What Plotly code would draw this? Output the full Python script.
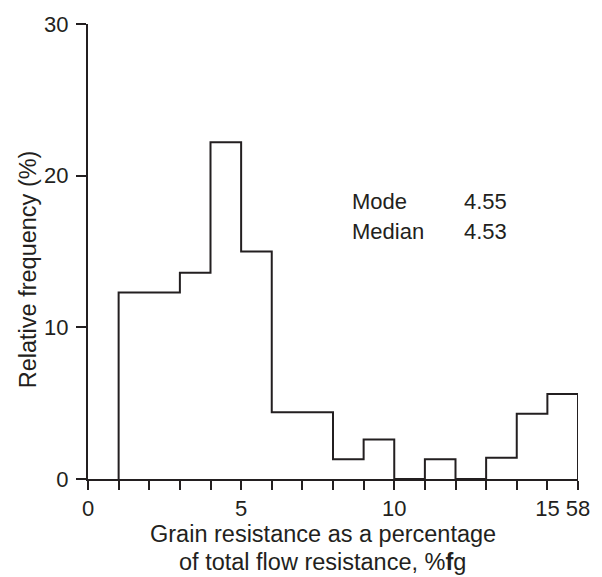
import plotly.graph_objects as go

# Histogram of grain resistance (% of total flow resistance), 1-unit bins
bin_left = [1, 2, 3, 4, 5, 6, 7, 8, 9, 10, 11, 12, 13, 14, 15]
freq = [12.3, 12.3, 13.6, 22.2, 15.0, 4.4, 4.4, 1.3, 2.6, 0.0, 1.3, 0.0, 1.4, 4.3, 5.6]
bin_width = 1

x_tick_vals = list(range(0, 17))
x_tick_text = ["0", "", "", "", "", "5", "", "", "", "", "10", "", "", "", "", "15", "58"]
y_tick_vals = [0, 10, 20, 30]

stats_names = ["Mode", "Median"]
stats_values = ["4.55", "4.53"]

x_title_lines = ["Grain resistance as a percentage", "of total flow resistance, %<b>f</b>g"]
y_title = "Relative frequency (%)"

ink = "#231f20"
font = "Liberation Sans, Arial, sans-serif"

# Step outline: rise at the first edge, step across each bin, drop at the last edge
xs = [bin_left[0]] + bin_left + [bin_left[-1] + bin_width]
ys = [0] + freq + [0]

fig = go.Figure()
fig.add_trace(go.Scatter(
    x=xs, y=ys, mode="lines", line=dict(shape="hv", color=ink, width=2),
    hoverinfo="skip", showlegend=False,
))

fig.update_layout(
    width=602, height=577,
    margin=dict(l=88, r=24, t=17, b=98),
    paper_bgcolor="white", plot_bgcolor="white",
    font=dict(family=font, size=22, color=ink),
    xaxis=dict(
        range=[0, 16], tickmode="array", tickvals=x_tick_vals, ticktext=x_tick_text,
        ticks="outside", ticklen=9, tickwidth=2, tickcolor=ink,
        showline=True, linecolor=ink, linewidth=2, showgrid=False, zeroline=False,
        tickfont=dict(size=22),
    ),
    yaxis=dict(
        range=[0, 30], tickmode="array", tickvals=y_tick_vals,
        ticks="outside", ticklen=10, tickwidth=2, tickcolor=ink,
        showline=True, linecolor=ink, linewidth=2, showgrid=False, zeroline=False,
        tickfont=dict(size=22), ticklabelstandoff=3,
    ),
)

# Y-axis title, rotated
fig.add_annotation(
    x=-0.1224, xref="paper", y=0.461, yref="paper", textangle=-90,
    xanchor="center", yanchor="middle", showarrow=False,
    text=y_title, font=dict(size=23.5),
)

# Two-line x-axis title
for line, yp in zip(x_title_lines, [-0.1212, -0.1818]):
    fig.add_annotation(
        x=0.4786, xref="paper", y=yp, yref="paper", yanchor="middle",
        showarrow=False, text=line, font=dict(size=23.5),
    )

# Summary statistics
for i, (name, val) in enumerate(zip(stats_names, stats_values)):
    yv = 18.3 - i * 2.0
    fig.add_annotation(x=8.55, y=yv, text=name, showarrow=False, xanchor="left",
                       font=dict(size=22))
    fig.add_annotation(x=12.2, y=yv, text=val, showarrow=False, xanchor="left",
                       font=dict(size=22))

fig.write_html("out.html")
